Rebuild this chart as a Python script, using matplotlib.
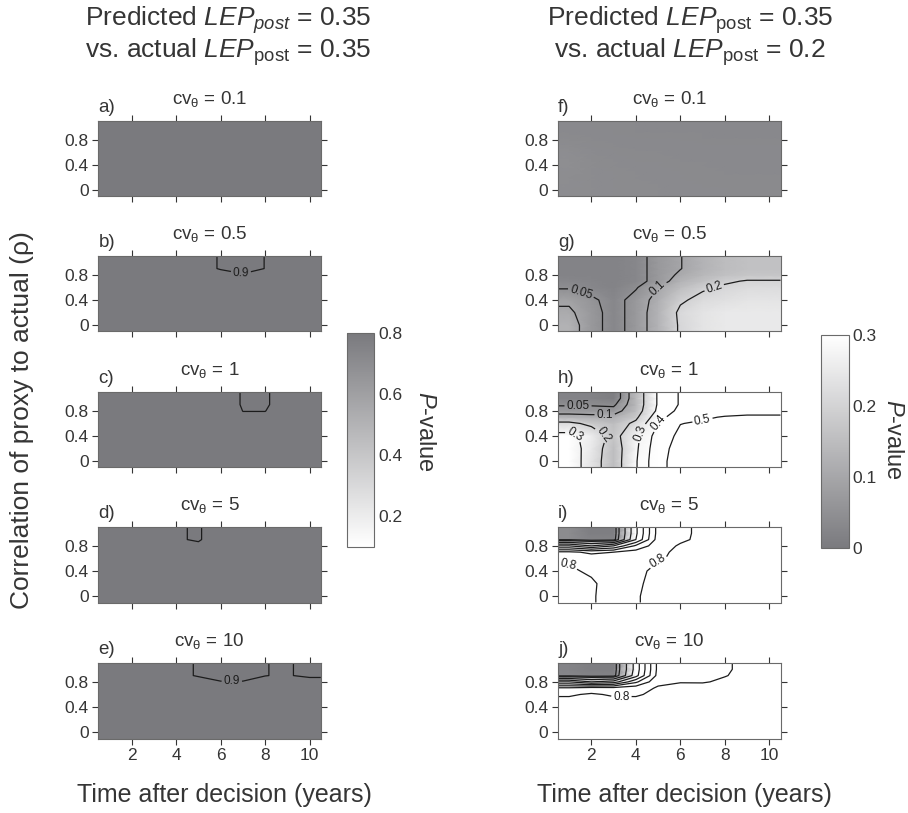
import numpy as np
import matplotlib
matplotlib.use('Agg')
import matplotlib.pyplot as plt
from matplotlib.colors import LinearSegmentedColormap, Normalize
from matplotlib.cm import ScalarMappable

plt.rcParams['font.family'] = ['Liberation Sans', 'DejaVu Sans']
plt.rcParams['mathtext.fontset'] = 'custom'
plt.rcParams['mathtext.rm'] = 'Liberation Sans'
plt.rcParams['mathtext.it'] = 'Liberation Sans:italic'
plt.rcParams['mathtext.bf'] = 'Liberation Sans:bold'
TXT = '#353535'
plt.rcParams['text.color'] = TXT
plt.rcParams['xtick.color'] = TXT
plt.rcParams['ytick.color'] = TXT

# ---------------- data ----------------
time_years = [1, 2, 3, 4, 5, 6, 7, 8, 9, 10]
rho = [0.0, 0.2, 0.4, 0.6, 0.7, 0.8, 0.9, 1.0]
cv_values = ['0.1', '0.5', '1', '5', '10']
left_letters = ['a)', 'b)', 'c)', 'd)', 'e)']
right_letters = ['f)', 'g)', 'h)', 'i)', 'j)']
x_ticks = [2, 4, 6, 8, 10]
y_ticks = [0, 0.4, 0.8]
y_tick_labels = ['0', '0.4', '0.8']
left_levels = [0.9]
right_levels = [0.05, 0.1, 0.2, 0.3, 0.4, 0.5, 0.6, 0.7, 0.8, 0.9]
left_cbar_ticks = [0.2, 0.4, 0.6, 0.8]
right_cbar_ticks = [0, 0.1, 0.2, 0.3]

# P-values, rows follow rho (bottom -> top), columns follow time_years
p_a = [
    [0.95, 0.95, 0.95, 0.95, 0.95, 0.95, 0.95, 0.95, 0.95, 0.95],
    [0.95, 0.95, 0.95, 0.95, 0.95, 0.95, 0.95, 0.95, 0.95, 0.95],
    [0.95, 0.95, 0.95, 0.94, 0.94, 0.94, 0.94, 0.94, 0.94, 0.94],
    [0.94, 0.94, 0.94, 0.94, 0.94, 0.94, 0.94, 0.94, 0.94, 0.94],
    [0.94, 0.94, 0.94, 0.94, 0.94, 0.93, 0.93, 0.93, 0.93, 0.93],
    [0.94, 0.94, 0.93, 0.93, 0.93, 0.93, 0.93, 0.93, 0.93, 0.93],
    [0.93, 0.93, 0.93, 0.93, 0.93, 0.93, 0.93, 0.93, 0.93, 0.93],
    [0.93, 0.93, 0.93, 0.93, 0.93, 0.93, 0.93, 0.93, 0.93, 0.93],
]
p_b = [
    [0.94, 0.94, 0.94, 0.94, 0.94, 0.94, 0.94, 0.94, 0.94, 0.94],
    [0.94, 0.94, 0.94, 0.94, 0.94, 0.94, 0.94, 0.94, 0.94, 0.94],
    [0.94, 0.94, 0.94, 0.94, 0.94, 0.94, 0.94, 0.94, 0.94, 0.94],
    [0.93, 0.93, 0.93, 0.93, 0.93, 0.93, 0.93, 0.93, 0.93, 0.93],
    [0.93, 0.93, 0.93, 0.93, 0.93, 0.92, 0.92, 0.93, 0.93, 0.93],
    [0.93, 0.93, 0.93, 0.93, 0.92, 0.92, 0.905, 0.91, 0.93, 0.93],
    [0.93, 0.93, 0.93, 0.93, 0.92, 0.896, 0.88, 0.901, 0.92, 0.93],
    [0.93, 0.93, 0.93, 0.93, 0.92, 0.896, 0.88, 0.901, 0.92, 0.93],
]
p_c = [
    [0.94, 0.94, 0.94, 0.94, 0.94, 0.94, 0.94, 0.94, 0.94, 0.94],
    [0.94, 0.94, 0.94, 0.94, 0.94, 0.94, 0.94, 0.94, 0.94, 0.94],
    [0.94, 0.94, 0.94, 0.94, 0.94, 0.94, 0.94, 0.94, 0.94, 0.94],
    [0.93, 0.93, 0.93, 0.93, 0.93, 0.93, 0.93, 0.93, 0.93, 0.93],
    [0.93, 0.93, 0.93, 0.93, 0.93, 0.93, 0.91, 0.91, 0.93, 0.93],
    [0.93, 0.93, 0.93, 0.93, 0.93, 0.95, 0.899, 0.899, 0.93, 0.93],
    [0.93, 0.93, 0.93, 0.93, 0.93, 0.92, 0.897, 0.895, 0.92, 0.93],
    [0.93, 0.93, 0.93, 0.93, 0.93, 0.92, 0.897, 0.895, 0.92, 0.93],
]
p_d = [
    [0.95, 0.95, 0.95, 0.95, 0.95, 0.95, 0.95, 0.95, 0.95, 0.95],
    [0.95, 0.95, 0.95, 0.95, 0.95, 0.95, 0.95, 0.95, 0.95, 0.95],
    [0.94, 0.94, 0.94, 0.94, 0.94, 0.94, 0.94, 0.94, 0.94, 0.94],
    [0.94, 0.94, 0.94, 0.94, 0.94, 0.94, 0.94, 0.94, 0.94, 0.94],
    [0.94, 0.94, 0.94, 0.94, 0.94, 0.94, 0.94, 0.94, 0.94, 0.94],
    [0.94, 0.94, 0.94, 0.93, 0.92, 0.96, 0.94, 0.94, 0.94, 0.94],
    [0.94, 0.94, 0.94, 0.91, 0.89, 0.96, 0.94, 0.94, 0.94, 0.94],
    [0.94, 0.94, 0.94, 0.91, 0.89, 0.96, 0.94, 0.94, 0.94, 0.94],
]
p_e = [
    [0.95, 0.95, 0.95, 0.95, 0.95, 0.95, 0.95, 0.95, 0.95, 0.95],
    [0.95, 0.95, 0.95, 0.95, 0.95, 0.95, 0.95, 0.95, 0.95, 0.95],
    [0.94, 0.94, 0.94, 0.94, 0.94, 0.94, 0.94, 0.94, 0.94, 0.94],
    [0.94, 0.94, 0.94, 0.94, 0.94, 0.94, 0.94, 0.94, 0.95, 0.96],
    [0.93, 0.93, 0.93, 0.93, 0.93, 0.93, 0.93, 0.93, 0.95, 0.96],
    [0.93, 0.93, 0.93, 0.93, 0.93, 0.902, 0.902, 0.93, 0.95, 0.963],
    [0.93, 0.93, 0.93, 0.92, 0.894, 0.885, 0.885, 0.898, 0.91, 0.873],
    [0.93, 0.93, 0.93, 0.92, 0.894, 0.885, 0.885, 0.898, 0.91, 0.873],
]
p_f = [
    [0.042, 0.040, 0.039, 0.038, 0.038, 0.037, 0.037, 0.037, 0.036, 0.036],
    [0.043, 0.040, 0.039, 0.038, 0.037, 0.037, 0.036, 0.036, 0.036, 0.036],
    [0.045, 0.040, 0.038, 0.037, 0.037, 0.036, 0.036, 0.035, 0.035, 0.035],
    [0.044, 0.039, 0.037, 0.036, 0.036, 0.035, 0.035, 0.035, 0.034, 0.034],
    [0.040, 0.037, 0.036, 0.035, 0.035, 0.034, 0.034, 0.034, 0.034, 0.034],
    [0.038, 0.036, 0.035, 0.034, 0.034, 0.034, 0.033, 0.033, 0.033, 0.033],
    [0.036, 0.035, 0.034, 0.033, 0.033, 0.033, 0.033, 0.032, 0.032, 0.032],
    [0.035, 0.034, 0.033, 0.033, 0.032, 0.032, 0.032, 0.032, 0.032, 0.032],
]
p_g = [
    [0.126, 0.07, 0.03, 0.07, 0.13, 0.21, 0.24, 0.25, 0.25, 0.25],
    [0.11, 0.07, 0.03, 0.07, 0.13, 0.215, 0.24, 0.25, 0.25, 0.25],
    [0.09, 0.06, 0.03, 0.07, 0.12, 0.19, 0.22, 0.23, 0.24, 0.24],
    [0.045, 0.03, 0.02, 0.045, 0.10, 0.15, 0.19, 0.21, 0.22, 0.22],
    [0.03, 0.025, 0.02, 0.03, 0.07, 0.13, 0.16, 0.19, 0.205, 0.205],
    [0.02, 0.02, 0.02, 0.03, 0.07, 0.11, 0.14, 0.16, 0.17, 0.17],
    [0.02, 0.02, 0.02, 0.03, 0.07, 0.098, 0.13, 0.15, 0.16, 0.16],
    [0.02, 0.02, 0.02, 0.03, 0.07, 0.098, 0.13, 0.15, 0.16, 0.16],
]
p_h = [
    [0.37, 0.24, 0.15, 0.29, 0.48, 0.53, 0.54, 0.54, 0.54, 0.54],
    [0.36, 0.25, 0.15, 0.28, 0.47, 0.53, 0.54, 0.54, 0.54, 0.54],
    [0.33, 0.26, 0.17, 0.27, 0.45, 0.52, 0.53, 0.53, 0.53, 0.53],
    [0.22, 0.18, 0.15, 0.22, 0.40, 0.498, 0.51, 0.52, 0.52, 0.52],
    [0.13, 0.12, 0.12, 0.18, 0.36, 0.47, 0.49, 0.505, 0.51, 0.51],
    [0.07, 0.07, 0.07, 0.15, 0.32, 0.43, 0.46, 0.47, 0.48, 0.48],
    [0.045, 0.045, 0.04, 0.14, 0.31, 0.41, 0.44, 0.46, 0.47, 0.47],
    [0.02, 0.02, 0.01, 0.14, 0.31, 0.41, 0.43, 0.45, 0.46, 0.46],
]
p_i = [
    [0.82, 0.805, 0.78, 0.79, 0.84, 0.85, 0.85, 0.85, 0.85, 0.85],
    [0.82, 0.81, 0.77, 0.78, 0.84, 0.85, 0.85, 0.85, 0.85, 0.85],
    [0.81, 0.79, 0.76, 0.77, 0.83, 0.85, 0.85, 0.85, 0.85, 0.85],
    [0.79, 0.75, 0.73, 0.76, 0.79, 0.82, 0.84, 0.85, 0.85, 0.85],
    [0.72, 0.68, 0.70, 0.74, 0.78, 0.82, 0.84, 0.85, 0.85, 0.85],
    [0.40, 0.30, 0.40, 0.62, 0.76, 0.81, 0.83, 0.84, 0.85, 0.85],
    [0.04, 0.02, 0.02, 0.40, 0.75, 0.785, 0.82, 0.84, 0.85, 0.85],
    [0.04, 0.01, 0.01, 0.38, 0.74, 0.78, 0.82, 0.84, 0.85, 0.85],
]
p_j = [
    [0.86, 0.86, 0.85, 0.85, 0.85, 0.85, 0.85, 0.85, 0.85, 0.85],
    [0.86, 0.86, 0.85, 0.85, 0.85, 0.85, 0.85, 0.85, 0.85, 0.85],
    [0.85, 0.86, 0.85, 0.85, 0.85, 0.85, 0.85, 0.85, 0.85, 0.85],
    [0.79, 0.81, 0.79, 0.79, 0.82, 0.85, 0.85, 0.85, 0.85, 0.85],
    [0.72, 0.75, 0.74, 0.76, 0.81, 0.83, 0.85, 0.85, 0.85, 0.85],
    [0.40, 0.30, 0.35, 0.58, 0.78, 0.795, 0.79, 0.82, 0.84, 0.85],
    [0.03, 0.02, 0.02, 0.36, 0.74, 0.77, 0.78, 0.795, 0.83, 0.85],
    [0.02, 0.01, 0.01, 0.34, 0.73, 0.75, 0.77, 0.79, 0.82, 0.84],
]

# contour label positions (time, rho)
labels_left = [[], [(6.9, 0.8)], [], [], [(6.5, 0.81)]]
labels_right = [[], [(1.5, 0.48), (5.0, 0.59), (7.5, 0.62)],
                [(1.4, 0.89), (2.6, 0.75), (2.6, 0.45), (1.3, 0.46),
                 (4.2, 0.45), (5.0, 0.62), (7.0, 0.64)],
                [(0.95, 0.5), (4.9, 0.63)],
                [(3.35, 0.5)]]

left_panels = [p_a, p_b, p_c, p_d, p_e]
right_panels = [p_f, p_g, p_h, p_i, p_j]

# ---------------- styling ----------------
DARK = '#7a7a7e'
cmap_left = LinearSegmentedColormap.from_list('lft', ['#ffffff', DARK])
cmap_right = LinearSegmentedColormap.from_list('rgt', [DARK, '#ffffff'])
norm_left = Normalize(0.1, 0.8)
norm_right = Normalize(0.0, 0.3)

W, H = 908, 813
fig = plt.figure(figsize=(W / 100, H / 100), dpi=100)
fig.patch.set_facecolor('white')


def frac(l, t, w, h):
    return [l / W, 1 - (t + h) / H, w / W, h / H]


row_tops = [121, 256, 392, 527, 663]
col_lefts = [98.3, 558]
AW, AH = 222.5, 75.5

xp = np.array([0.5] + time_years + [10.5], dtype=float)
yp = np.array([-0.1] + rho + [1.1], dtype=float)


def fmt(v):
    return f'{v:g}'


def draw_panel(col, row, data, levels, cmap, norm, letter, labels):
    ax = fig.add_axes(frac(col_lefts[col], row_tops[row], AW, AH))
    z = np.pad(np.array(data, dtype=float), 1, mode='edge')
    ax.pcolormesh(xp, yp, z, shading='gouraud', cmap=cmap, norm=norm)
    cs = ax.contour(xp, yp, z, levels=levels, colors='#1c1c1c', linewidths=0.9)
    if labels:
        ax.clabel(cs, fmt=fmt, fontsize=8.5, inline=True, inline_spacing=2,
                  manual=labels)
    ax.set_xlim(0.5, 10.5)
    ax.set_ylim(-0.1, 1.1)
    ax.set_xticks(x_ticks)
    ax.set_yticks(y_ticks)
    ax.set_yticklabels(y_tick_labels)
    ax.tick_params(direction='out', top=True, right=True, length=4, width=0.8,
                   labelsize=12.5, labelbottom=(row == 4), pad=3)
    for s in ax.spines.values():
        s.set_color('#6a6a6a')
        s.set_linewidth(0.8)
    ax.text(0.5, 1 + 17 / AH, r'cv$_{\mathrm{θ}}$ = ' + cv_values[row],
            transform=ax.transAxes, ha='center', va='baseline', fontsize=13.5)
    ax.text(0.0, 1 + 9 / AH, letter, transform=ax.transAxes, ha='left',
            va='baseline', fontsize=13.5)
    return ax


for r in range(5):
    draw_panel(0, r, left_panels[r], left_levels, cmap_left, norm_left,
               left_letters[r], labels_left[r])
    draw_panel(1, r, right_panels[r], right_levels, cmap_right, norm_right,
               right_letters[r], labels_right[r])

# colorbars
for (l, t, w, h), cmap, norm, ticks, lx, ly in [
        ((347.3, 333.3, 27, 213.4), cmap_left, norm_left, left_cbar_ticks, 425, 432),
        ((820.7, 335.0, 28, 213.3), cmap_right, norm_right, right_cbar_ticks, 893, 440)]:
    cax = fig.add_axes(frac(l, t, w, h))
    cb = fig.colorbar(ScalarMappable(norm=norm, cmap=cmap), cax=cax)
    cb.set_ticks(ticks)
    cb.set_ticklabels([fmt(v) for v in ticks])
    cb.ax.tick_params(length=0, labelsize=12.5, pad=3)
    cb.outline.set_edgecolor('#6a6a6a')
    cb.outline.set_linewidth(0.8)
    fig.text(lx / W, 1 - ly / H, r'$\mathit{P}$-value', rotation=270,
             ha='center', va='center', fontsize=17)

# column headers
fig.text(228 / W, 1 - 20 / H, r'Predicted $\mathit{LEP}_{\mathit{post}}$ = 0.35',
         ha='center', va='center', fontsize=19)
fig.text(228 / W, 1 - 52 / H, r'vs. actual $\mathit{LEP}_{\mathrm{post}}$ = 0.35',
         ha='center', va='center', fontsize=19)
fig.text(690 / W, 1 - 20 / H, r'Predicted $\mathit{LEP}_{\mathrm{post}}$ = 0.35',
         ha='center', va='center', fontsize=19)
fig.text(690 / W, 1 - 52 / H, r'vs. actual $\mathit{LEP}_{\mathrm{post}}$ = 0.2',
         ha='center', va='center', fontsize=19)

# axis labels
fig.text(224 / W, 1 - 795 / H, 'Time after decision (years)', ha='center',
         va='center', fontsize=18)
fig.text(684 / W, 1 - 795 / H, 'Time after decision (years)', ha='center',
         va='center', fontsize=18)
fig.text(22 / W, 1 - 420 / H, 'Correlation of proxy to actual (ρ)', rotation=90,
         ha='center', va='center', fontsize=19)

fig.savefig('out.png', dpi=100, facecolor='white')
